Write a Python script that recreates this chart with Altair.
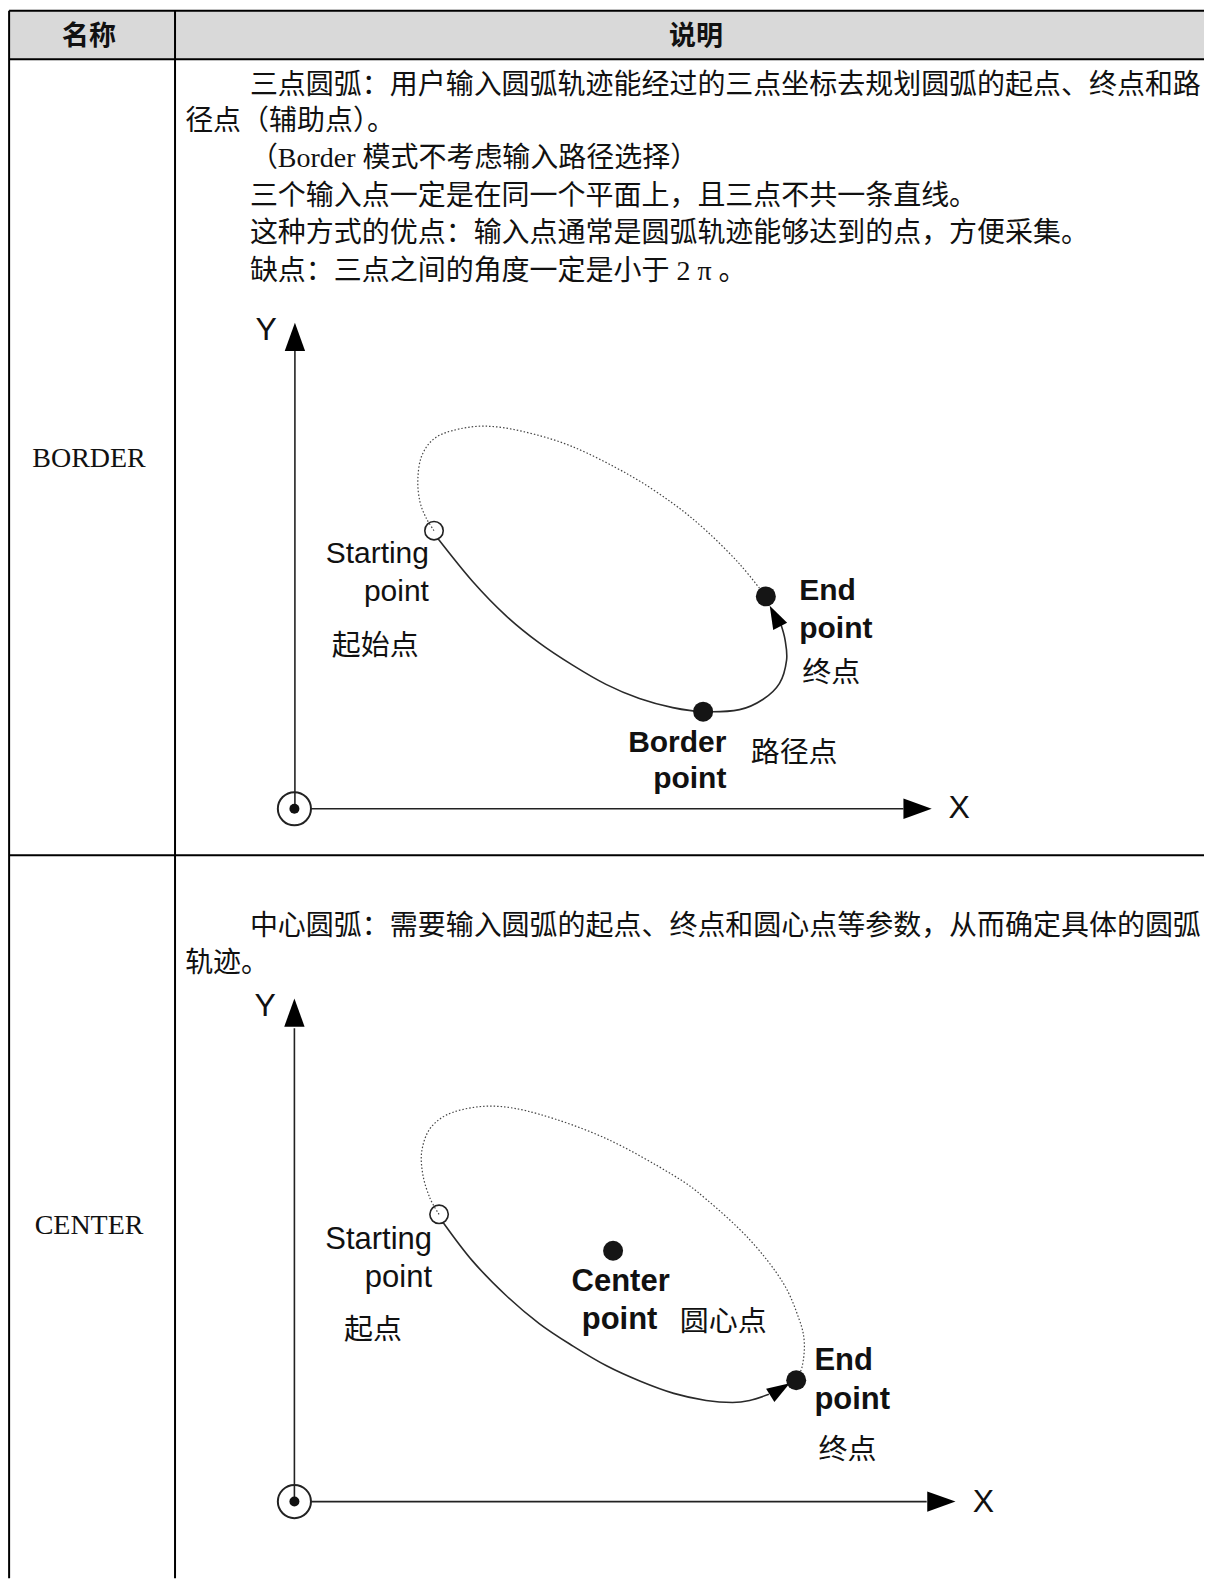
import altair as alt
import pandas as pd

# All positions (1198 x 1568 view).
X_LO, X_HI = 7.9, 1190.1
Y_LO, Y_HI = 7.9, 1559.9
x_scale = alt.Scale(domain=[X_LO, X_HI], nice=False, zero=False)
y_scale = alt.Scale(domain=[Y_HI, Y_LO], nice=False, zero=False)

SERIF = "'Liberation Serif','Noto Sans CJK SC'"
SANS = "'Liberation Sans','Noto Sans CJK SC'"
CJK = "'Noto Sans CJK SC'"
INK = "#111111"

# --- table ---
hlines = [(9, X_HI, 10), (9, X_HI, 58), (9, X_HI, 845)]
vlines = [(9, 10, Y_HI), (173, 10, Y_HI)]
header_names = ["名称", "说明"]
header_xs = [88, 688]
header_y = 36
row_names = ["BORDER", "CENTER"]
row_name_xs = [88, 88]
row_name_ys = [453, 1212]

body_lines = [
    "三点圆弧：用户输入圆弧轨迹能经过的三点坐标去规划圆弧的起点、终点和路",
    "径点（辅助点）。",
    "（Border 模式不考虑输入路径选择）",
    "三个输入点一定是在同一个平面上，且三点不共一条直线。",
    "这种方式的优点：输入点通常是圆弧轨迹能够达到的点，方便采集。",
    "缺点：三点之间的角度一定是小于 2 π 。",
    "中心圆弧：需要输入圆弧的起点、终点和圆心点等参数，从而确定具体的圆弧",
    "轨迹。",
]
body_xs = [247, 183, 247, 247, 247, 247, 247, 183]
body_ys = [84, 120, 157, 194, 231, 268, 916, 952]

# --- diagram axes ---
axis_x = [(307, 893, 799), (307, 916, 1484)]
axis_y = [(291.5, 345, 799), (291, 1016, 1484)]
origin_x = [291, 291]
origin_y = [799, 1484]
axis_arrow_x = [291.5, 907, 291, 930.5]
axis_arrow_y = [332.5, 799, 1000.5, 1484]
axis_arrow_angle = [0, 90, 0, 90]
axis_letters = ["Y", "X", "Y", "X"]
axis_letter_x = [263, 948, 262, 972]
axis_letter_y = [326, 798, 994, 1484]

# --- curves ---
dotted1_x = [429, 421, 415, 413, 416.5, 428, 447.5, 479, 517, 566, 622, 665, 698, 731, 757]
dotted1_y = [524, 511, 495, 474, 451, 434, 425, 420.7, 426, 441, 469, 497, 524, 557, 589]
solid1_x = [433, 467, 500, 533, 566, 599, 632, 665, 695, 731, 754, 770.5, 777.5, 776, 772]
solid1_y = [532, 574, 608, 635, 657, 676, 690, 699, 703, 701, 691, 675, 652, 632, 617]
dotted2_x = [434, 425, 418, 417, 426, 448, 487, 533, 599, 665, 698, 741, 773.6, 790, 795, 793, 787]
dotted2_y = [1200, 1184, 1161, 1137, 1114, 1099, 1093, 1101, 1125, 1161, 1185, 1225, 1267, 1304, 1326.6, 1350, 1364]
solid2_x = [438, 467, 500, 533, 566, 600, 633, 666, 698, 724, 741, 760]
solid2_y = [1208, 1246, 1280, 1308, 1330, 1350, 1365, 1377, 1384, 1386, 1384, 1378]

curve_arrow_x = [766, 771]
curve_arrow_y = [608.5, 1373]
curve_arrow_angle = [333, 58]

# --- points ---
open_x = [429, 434]
open_y = [524, 1200]
dot_x = [757, 695, 787, 606]
dot_y = [589, 703, 1364, 1236]

# --- labels ---
reg1 = ["Starting", "point"]
reg1_x = [424, 424]
reg1_y = [547, 585]
reg2 = ["Starting", "point"]
reg2_x = [427, 427]
reg2_y = [1225.5, 1262.5]
bold_right = ["Border", "point"]
bold_right_x = [718, 718]
bold_right_y = [734, 770]
bold1 = ["End", "point"]
bold1_x = [790, 790]
bold1_y = [584, 621]
bold2 = ["Center", "point", "End", "point"]
bold2_x = [565, 575, 805, 805]
bold2_y = [1267, 1304, 1345, 1384]
cn_labels = ["起始点", "终点", "路径点", "起点", "圆心点", "终点"]
cn_x = [328, 793, 742, 340, 672, 809]
cn_y = [638, 665, 744, 1314, 1306, 1433]


def xy():
    return dict(
        x=alt.X("x:Q", scale=x_scale, axis=None),
        y=alt.Y("y:Q", scale=y_scale, axis=None),
    )


def segs_h(rows, **mark):
    d = pd.DataFrame(rows, columns=["x", "x2", "y"])
    return alt.Chart(d).mark_rule(**mark).encode(
        x=alt.X("x:Q", scale=x_scale, axis=None), x2="x2:Q",
        y=alt.Y("y:Q", scale=y_scale, axis=None))


def segs_v(rows, **mark):
    d = pd.DataFrame(rows, columns=["x", "y", "y2"])
    return alt.Chart(d).mark_rule(**mark).encode(
        x=alt.X("x:Q", scale=x_scale, axis=None),
        y=alt.Y("y:Q", scale=y_scale, axis=None), y2="y2:Q")


def texts(labels, xs, ys, **mark):
    d = pd.DataFrame({"t": labels, "x": xs, "y": ys})
    mark.setdefault("baseline", "middle")
    mark.setdefault("color", INK)
    return alt.Chart(d).mark_text(**mark).encode(text="t:N", **xy())


def curve(xs, ys, **mark):
    d = pd.DataFrame({"x": xs, "y": ys, "i": range(len(xs))})
    return alt.Chart(d).mark_line(interpolate="cardinal", **mark).encode(
        order="i:Q", **xy())


def points(xs, ys, **mark):
    d = pd.DataFrame({"x": xs, "y": ys})
    return alt.Chart(d).mark_point(opacity=1, **mark).encode(**xy())


def arrows(xs, ys, angles, shape, size):
    d = pd.DataFrame({"x": xs, "y": ys, "a": angles})
    return alt.Chart(d).mark_point(
        shape=shape, size=size, filled=True, opacity=1, color="#000000", strokeWidth=0
    ).encode(angle=alt.Angle("a:Q", scale=None), **xy())


header_bg = alt.Chart(pd.DataFrame({"x": [9], "x2": [X_HI], "y": [10], "y2": [58]})).mark_rect(
    color="#d9d9d9").encode(
    x=alt.X("x:Q", scale=x_scale, axis=None), x2="x2:Q",
    y=alt.Y("y:Q", scale=y_scale, axis=None), y2="y2:Q")

layers = [
    header_bg,
    segs_h(hlines, strokeWidth=2, color="#000000"),
    segs_v(vlines, strokeWidth=2, color="#000000"),
    texts(header_names, header_xs, [header_y] * 2, align="center", font=SERIF, fontSize=27, fontWeight="bold"),
    texts(row_names, row_name_xs, row_name_ys, align="center", font=SERIF, fontSize=28),
    texts(body_lines, body_xs, body_ys, align="left", font=SERIF, fontSize=28),
    segs_h(axis_x, strokeWidth=1.6, color="#222222"),
    segs_v(axis_y, strokeWidth=1.6, color="#222222"),
    points(origin_x, origin_y, shape="circle", size=1100, strokeWidth=2, color="#222222"),
    points(origin_x, origin_y, shape="circle", size=100, filled=True, color="#111111"),
    arrows(axis_arrow_x, axis_arrow_y, axis_arrow_angle, "M0,-1L0.72,1L-0.72,1Z", 800),
    texts(axis_letters, axis_letter_x, axis_letter_y, align="center", font=SANS, fontSize=32),
    curve(dotted1_x, dotted1_y, strokeWidth=1.2, strokeDash=[1.5, 2], color="#444444"),
    curve(dotted2_x, dotted2_y, strokeWidth=1.2, strokeDash=[1.5, 2], color="#444444"),
    curve(solid1_x, solid1_y, strokeWidth=1.6, color="#2a2a2a"),
    curve(solid2_x, solid2_y, strokeWidth=1.6, color="#2a2a2a"),
    arrows(curve_arrow_x, curve_arrow_y, curve_arrow_angle, "M0,-1L0.68,1L-0.68,1Z", 530),
    points(open_x, open_y, shape="circle", size=340, strokeWidth=1.6, color="#222222"),
    points(dot_x, dot_y, shape="circle", size=400, filled=True, color="#151515"),
    texts(reg1, reg1_x, reg1_y, align="right", font=SANS, fontSize=30),
    texts(reg2, reg2_x, reg2_y, align="right", font=SANS, fontSize=31),
    texts(bold_right, bold_right_x, bold_right_y, align="right", font=SANS, fontSize=30, fontWeight="bold"),
    texts(bold1, bold1_x, bold1_y, align="left", font=SANS, fontSize=30, fontWeight="bold"),
    texts(bold2, bold2_x, bold2_y, align="left", font=SANS, fontSize=31, fontWeight="bold"),
    texts(cn_labels, cn_x, cn_y, align="left", font=CJK, fontSize=29),
]

chart = alt.layer(*layers).properties(
    width=1197, height=1571, padding=0, background="white"
).configure_view(stroke=None)

chart.save("out.html", embed_options={"renderer": "svg", "actions": False})
